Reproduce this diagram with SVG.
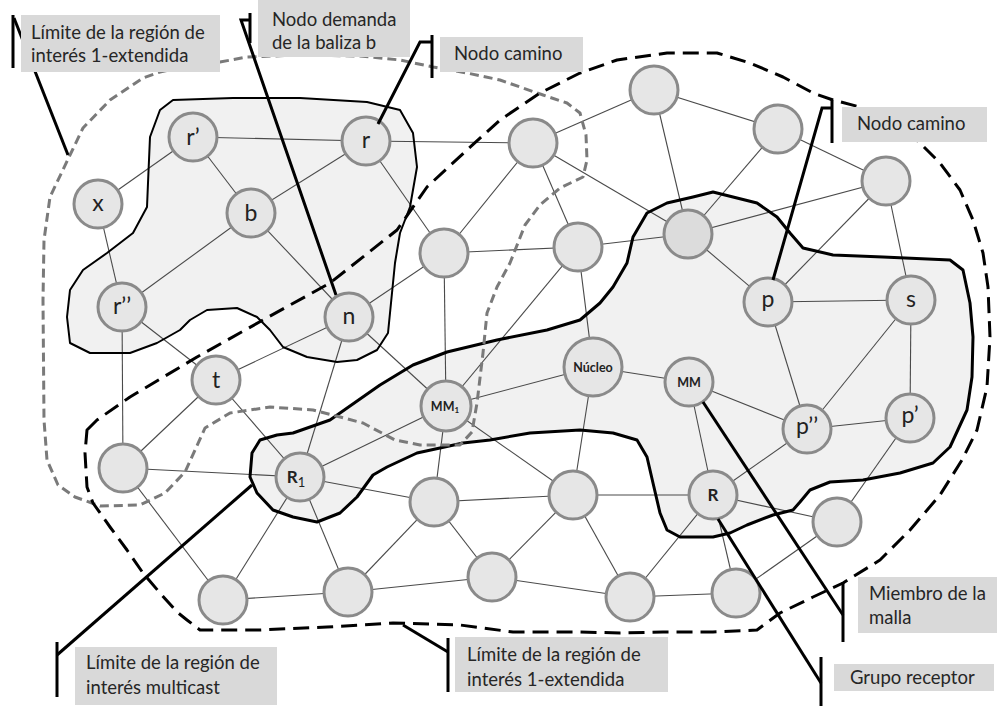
<svg xmlns="http://www.w3.org/2000/svg" width="997" height="706" viewBox="0 0 997 706">
<style>
  .edge { stroke: #4a4a4a; stroke-width: 1.1; fill: none; }
  .node circle { fill: #e6e6e6; stroke: #8a8a8a; stroke-width: 3; }
  .node text { font-family: Lato, "Liberation Sans", sans-serif; font-size: 23px; fill: #222; text-anchor: middle; }
  .node text.b { font-weight: bold; }
  .region-fill { fill: #f1f1f1; }
  .outline-solid { fill: none; stroke: #000; stroke-linejoin: round; }
  .gray-dash { fill: none; stroke: #7a7a7a; stroke-width: 3; stroke-dasharray: 9 5; stroke-linejoin: round; }
  .black-dash { fill: none; stroke: #000; stroke-width: 3; stroke-dasharray: 16 8; stroke-linejoin: round; }
  .leader { stroke: #000; stroke-width: 3; fill: none; }
  .box rect { fill: #d9d9d9; }
  .box text { font-family: Lato, "Liberation Sans", sans-serif; font-size: 18.5px; fill: #262626; }
</style>

<!-- shaded groups -->
<g id="regions">
  <path id="group-left" class="region-fill" d="M160,110 L173,100 L233,98 L300,98 L367,102 L400,110 L413,133 L417,167 L410,207 L400,233 L395,263 L390,313 L388,333 L377,350 L357,360 L337,362 L307,357 L283,347 L270,330 L257,317 L237,308 L207,310 L190,320 L180,330 L157,343 L130,353 L90,353 L70,343 L67,317 L70,290 L83,270 L107,253 L133,233 L147,207 L148,183 L150,137 Z"/>
  <path id="group-right" class="region-fill" d="M580,320 L600,303 L613,287 L627,263 L633,237 L647,213 L667,203 L693,197 L713,192 L733,197 L757,203 L777,217 L790,233 L803,248 L833,255 L883,257 L950,260 L963,270 L970,303 L973,337 L972,377 L967,410 L950,447 L933,463 L900,473 L863,480 L830,482 L810,490 L800,502 L793,510 L773,515 L747,525 L730,533 L713,537 L680,537 L667,530 L660,513 L653,483 L647,457 L637,440 L613,433 L580,430 L530,433 L490,440 L463,443 L417,453 L387,467 L373,475 L357,497 L340,513 L317,522 L293,517 L273,510 L257,493 L250,477 L252,453 L260,440 L277,435 L293,433 L330,420 L380,385 L413,365 L447,352 L497,340 L547,330 Z"/>
</g>

<!-- links between nodes -->
<g id="connectors">
  <line class="edge" x1="193" y1="137" x2="366" y2="141"/>
  <line class="edge" x1="193" y1="137" x2="98" y2="204"/>
  <line class="edge" x1="193" y1="137" x2="251" y2="213"/>
  <line class="edge" x1="366" y1="141" x2="251" y2="213"/>
  <line class="edge" x1="366" y1="141" x2="533" y2="143"/>
  <line class="edge" x1="366" y1="141" x2="444" y2="253"/>
  <line class="edge" x1="98" y1="204" x2="122" y2="307"/>
  <line class="edge" x1="251" y1="213" x2="122" y2="307"/>
  <line class="edge" x1="251" y1="213" x2="349" y2="317"/>
  <line class="edge" x1="122" y1="307" x2="216" y2="380"/>
  <line class="edge" x1="122" y1="307" x2="123" y2="468"/>
  <line class="edge" x1="349" y1="317" x2="216" y2="380"/>
  <line class="edge" x1="349" y1="317" x2="444" y2="253"/>
  <line class="edge" x1="349" y1="317" x2="446" y2="406"/>
  <line class="edge" x1="349" y1="317" x2="300" y2="477"/>
  <line class="edge" x1="216" y1="380" x2="300" y2="477"/>
  <line class="edge" x1="216" y1="380" x2="123" y2="468"/>
  <line class="edge" x1="444" y1="253" x2="533" y2="143"/>
  <line class="edge" x1="444" y1="253" x2="578" y2="247"/>
  <line class="edge" x1="444" y1="253" x2="446" y2="406"/>
  <line class="edge" x1="533" y1="143" x2="654" y2="90"/>
  <line class="edge" x1="533" y1="143" x2="578" y2="247"/>
  <line class="edge" x1="533" y1="143" x2="688" y2="234"/>
  <line class="edge" x1="654" y1="90" x2="778" y2="129"/>
  <line class="edge" x1="654" y1="90" x2="688" y2="234"/>
  <line class="edge" x1="778" y1="129" x2="688" y2="234"/>
  <line class="edge" x1="778" y1="129" x2="886" y2="181"/>
  <line class="edge" x1="578" y1="247" x2="446" y2="406"/>
  <line class="edge" x1="578" y1="247" x2="593" y2="367"/>
  <line class="edge" x1="578" y1="247" x2="688" y2="234"/>
  <line class="edge" x1="688" y1="234" x2="886" y2="181"/>
  <line class="edge" x1="688" y1="234" x2="768" y2="302"/>
  <line class="edge" x1="886" y1="181" x2="768" y2="302"/>
  <line class="edge" x1="886" y1="181" x2="911" y2="300"/>
  <line class="edge" x1="768" y1="302" x2="911" y2="300"/>
  <line class="edge" x1="768" y1="302" x2="807" y2="429"/>
  <line class="edge" x1="911" y1="300" x2="807" y2="429"/>
  <line class="edge" x1="911" y1="300" x2="910" y2="418"/>
  <line class="edge" x1="807" y1="429" x2="910" y2="418"/>
  <line class="edge" x1="807" y1="429" x2="689" y2="382"/>
  <line class="edge" x1="807" y1="429" x2="713" y2="495"/>
  <line class="edge" x1="910" y1="418" x2="837" y2="522"/>
  <line class="edge" x1="689" y1="382" x2="593" y2="367"/>
  <line class="edge" x1="689" y1="382" x2="713" y2="495"/>
  <line class="edge" x1="593" y1="367" x2="446" y2="406"/>
  <line class="edge" x1="593" y1="367" x2="573" y2="495"/>
  <line class="edge" x1="446" y1="406" x2="300" y2="477"/>
  <line class="edge" x1="446" y1="406" x2="434" y2="502"/>
  <line class="edge" x1="446" y1="406" x2="573" y2="495"/>
  <line class="edge" x1="300" y1="477" x2="123" y2="468"/>
  <line class="edge" x1="300" y1="477" x2="434" y2="502"/>
  <line class="edge" x1="300" y1="477" x2="223" y2="600"/>
  <line class="edge" x1="300" y1="477" x2="348" y2="592"/>
  <line class="edge" x1="123" y1="468" x2="223" y2="600"/>
  <line class="edge" x1="223" y1="600" x2="348" y2="592"/>
  <line class="edge" x1="348" y1="592" x2="434" y2="502"/>
  <line class="edge" x1="348" y1="592" x2="492" y2="577"/>
  <line class="edge" x1="434" y1="502" x2="573" y2="495"/>
  <line class="edge" x1="434" y1="502" x2="492" y2="577"/>
  <line class="edge" x1="573" y1="495" x2="713" y2="495"/>
  <line class="edge" x1="573" y1="495" x2="492" y2="577"/>
  <line class="edge" x1="573" y1="495" x2="630" y2="597"/>
  <line class="edge" x1="713" y1="495" x2="630" y2="597"/>
  <line class="edge" x1="713" y1="495" x2="736" y2="593"/>
  <line class="edge" x1="713" y1="495" x2="837" y2="522"/>
  <line class="edge" x1="492" y1="577" x2="630" y2="597"/>
  <line class="edge" x1="630" y1="597" x2="736" y2="593"/>
  <line class="edge" x1="736" y1="593" x2="837" y2="522"/>
</g>

<!-- nodes -->
<g id="n-r1p" class="node"><circle cx="193" cy="137" r="24"/><text x="193" y="145">r’</text></g>
<g id="n-r" class="node"><circle cx="366" cy="141" r="24"/><text x="366" y="148">r</text></g>
<g id="n-x" class="node"><circle cx="98" cy="204" r="24"/><text x="98" y="211">x</text></g>
<g id="n-b" class="node"><circle cx="251" cy="213" r="24"/><text x="251" y="221">b</text></g>
<g id="n-r2p" class="node"><circle cx="122" cy="307" r="24"/><text x="122" y="314">r’’</text></g>
<g id="n-n" class="node"><circle cx="349" cy="317" r="24"/><text x="349" y="324">n</text></g>
<g id="n-t" class="node"><circle cx="216" cy="380" r="24"/><text x="216" y="388">t</text></g>
<g id="n-h" class="node"><circle cx="123" cy="468" r="24"/></g>
<g id="n-R1" class="node"><circle cx="300" cy="477" r="24"/><text class="b" x="296" y="483" style="font-size:17px">R<tspan dy="4" style="font-size:13px;font-weight:normal">1</tspan></text></g>
<g id="n-i" class="node"><circle cx="223" cy="600" r="24"/></g>
<g id="n-j" class="node"><circle cx="348" cy="592" r="24"/></g>
<g id="n-k" class="node"><circle cx="434" cy="502" r="24"/></g>
<g id="n-m" class="node"><circle cx="492" cy="577" r="24"/></g>
<g id="n-l" class="node"><circle cx="573" cy="495" r="24"/></g>
<g id="n-nn" class="node"><circle cx="630" cy="597" r="24"/></g>
<g id="n-o" class="node"><circle cx="736" cy="593" r="24"/></g>
<g id="n-pp" class="node"><circle cx="837" cy="522" r="24"/></g>
<g id="n-R" class="node"><circle cx="713" cy="495" r="24"/><text class="b" x="713" y="501" style="font-size:17px">R</text></g>
<g id="n-MM1" class="node"><circle cx="446" cy="406" r="25"/><text class="b" x="445" y="411" style="font-size:12.5px">MM<tspan dy="2" style="font-size:8px">1</tspan></text></g>
<g id="n-nucleo" class="node"><circle cx="593" cy="367" r="29"/><text class="b" x="593" y="372" style="font-size:12.5px">Núcleo</text></g>
<g id="n-MM" class="node"><circle cx="689" cy="382" r="24"/><text class="b" x="689" y="387" style="font-size:12.5px">MM</text></g>
<g id="n-f" class="node"><circle cx="444" cy="253" r="24"/></g>
<g id="n-g" class="node"><circle cx="578" cy="247" r="24"/></g>
<g id="n-a" class="node"><circle cx="533" cy="143" r="24"/></g>
<g id="n-bt" class="node"><circle cx="654" cy="90" r="24"/></g>
<g id="n-c" class="node"><circle cx="778" cy="129" r="24"/></g>
<g id="n-d" class="node"><circle cx="886" cy="181" r="24"/></g>
<g id="n-e" class="node"><circle cx="688" cy="234" r="24" style="fill:#dcdcdc"/></g>
<g id="n-p" class="node"><circle cx="768" cy="302" r="24"/><text x="768" y="307">p</text></g>
<g id="n-s" class="node"><circle cx="911" cy="300" r="24"/><text x="911" y="307">s</text></g>
<g id="n-p2p" class="node"><circle cx="807" cy="429" r="24"/><text x="807" y="434">p’’</text></g>
<g id="n-p1p" class="node"><circle cx="910" cy="418" r="24"/><text x="910" y="423">p’</text></g>

<!-- region outlines -->
<g id="boundaries">
  <path class="outline-solid" stroke-width="2" d="M160,110 L173,100 L233,98 L300,98 L367,102 L400,110 L413,133 L417,167 L410,207 L400,233 L395,263 L390,313 L388,333 L377,350 L357,360 L337,362 L307,357 L283,347 L270,330 L257,317 L237,308 L207,310 L190,320 L180,330 L157,343 L130,353 L90,353 L70,343 L67,317 L70,290 L83,270 L107,253 L133,233 L147,207 L148,183 L150,137 Z"/>
  <path class="outline-solid" stroke-width="3" d="M580,320 L600,303 L613,287 L627,263 L633,237 L647,213 L667,203 L693,197 L713,192 L733,197 L757,203 L777,217 L790,233 L803,248 L833,255 L883,257 L950,260 L963,270 L970,303 L973,337 L972,377 L967,410 L950,447 L933,463 L900,473 L863,480 L830,482 L810,490 L800,502 L793,510 L773,515 L747,525 L730,533 L713,537 L680,537 L667,530 L660,513 L653,483 L647,457 L637,440 L613,433 L580,430 L530,433 L490,440 L463,443 L417,453 L387,467 L373,475 L357,497 L340,513 L317,522 L293,517 L273,510 L257,493 L250,477 L252,453 L260,440 L277,435 L293,433 L330,420 L380,385 L413,365 L447,352 L497,340 L547,330 Z"/>
  <path class="gray-dash" d="M220,62 L247,57 L300,55 L360,56 L400,60 L433,67 L467,73 L500,80 L543,95 L567,103 L580,113 L586,135 L587,160 L583,177 L560,188 L540,205 L525,225 L510,263 L497,287 L487,313 L483,353 L477,403 L472,432 L460,445 L420,445 L395,440 L363,423 L313,410 L270,407 L230,413 L205,428 L195,450 L185,472 L165,493 L140,505 L100,506 L75,497 L58,485 L47,460 L44,420 L43,300 L44,240 L50,197 L70,155 L83,128 L110,100 L143,78 L160,72 L190,66 Z"/>
  <path class="black-dash" d="M87,430 L97,420 L130,397 L197,357 L263,320 L330,283 L397,230 L427,187 L467,150 L500,120 L540,93 L580,73 L617,60 L667,53 L717,53 L750,63 L783,77 L813,93 L833,100 L860,107 L900,125 L920,143 L940,163 L960,190 L973,220 L983,253 L988,287 L990,337 L987,387 L977,430 L962,460 L940,495 L910,530 L880,560 L843,583 L813,597 L780,613 L757,630 L713,632 L663,632 L620,633 L580,632 L513,632 L460,625 L393,623 L327,627 L260,630 L200,630 L187,620 L177,612 L160,593 L143,573 L127,550 L110,527 L93,503 L87,487 L85,453 Z"/>
</g>

<!-- callout leaders -->
<g id="leaders">
  <line class="leader" x1="13" y1="15" x2="13" y2="68"/>
  <line class="leader" x1="14" y1="18" x2="68" y2="155"/>
  <polyline class="leader" points="250,13 250,43"/>
  <polyline class="leader" points="250,20 241,20 336,295"/>
  <line class="leader" x1="432" y1="35" x2="432" y2="78"/>
  <polyline class="leader" points="432,42 420,42 378,124"/>
  <line class="leader" x1="832" y1="100" x2="832" y2="143"/>
  <polyline class="leader" points="832,108 822,108 773,280"/>
  <line class="leader" x1="843" y1="582" x2="843" y2="642"/>
  <line class="leader" x1="703" y1="402" x2="843" y2="615"/>
  <line class="leader" x1="821" y1="657" x2="821" y2="706"/>
  <line class="leader" x1="718" y1="519" x2="821" y2="683"/>
  <line class="leader" x1="57" y1="642" x2="57" y2="697"/>
  <line class="leader" x1="57" y1="655" x2="252" y2="485"/>
  <line class="leader" x1="448" y1="638" x2="448" y2="692"/>
  <line class="leader" x1="448" y1="652" x2="403" y2="625"/>
</g>

<!-- callout labels -->
<g id="label-limite-ext-top" class="box"><rect x="21" y="15" width="199" height="57"/><text x="31" y="39">Límite de la región de</text><text x="31" y="62">interés 1-extendida</text></g>
<g id="label-nodo-demanda" class="box"><rect x="258" y="0" width="152" height="57"/><text x="272" y="26">Nodo demanda</text><text x="272" y="49">de la baliza b</text></g>
<g id="label-nodo-camino-top" class="box"><rect x="440" y="37" width="143" height="35"/><text x="454" y="60">Nodo camino</text></g>
<g id="label-nodo-camino-right" class="box"><rect x="842" y="107" width="145" height="35"/><text x="857" y="130">Nodo camino</text></g>
<g id="label-miembro" class="box"><rect x="858" y="577" width="139" height="56"/><text x="869" y="600">Miembro de la</text><text x="869" y="624">malla</text></g>
<g id="label-grupo" class="box"><rect x="834" y="664" width="160" height="27"/><text x="850" y="684">Grupo receptor</text></g>
<g id="label-limite-multicast" class="box"><rect x="75" y="647" width="202" height="58"/><text x="86" y="669">Límite de la región de</text><text x="86" y="694">interés multicast</text></g>
<g id="label-limite-ext-bottom" class="box"><rect x="455" y="637" width="213" height="55"/><text x="467" y="661">Límite de la región de</text><text x="467" y="686">interés 1-extendida</text></g>
</svg>
